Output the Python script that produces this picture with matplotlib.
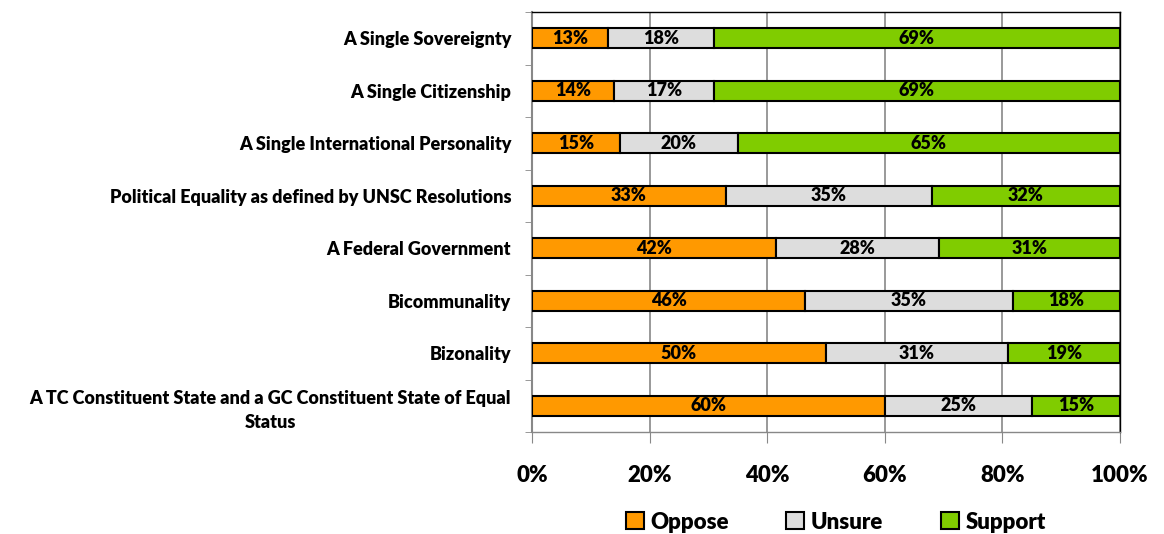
import numpy as np
import matplotlib.pyplot as plt

categories = [
    "A Single Sovereignty",
    "A Single Citizenship",
    "A Single International Personality",
    "Political Equality as defined by UNSC Resolutions",
    "A Federal Government",
    "Bicommunality",
    "Bizonality",
    "A TC Constituent State and a GC Constituent State of Equal\nStatus",
]
oppose = [13, 14, 15, 33, 42, 46, 50, 60]
unsure = [18, 17, 20, 35, 28, 35, 31, 25]
support = [69, 69, 65, 32, 31, 18, 19, 15]

series = [("Oppose", oppose, "#FF9900"),
          ("Unsure", unsure, "#DDDDDD"),
          ("Support", support, "#80CC00")]

plt.rcParams["font.family"] = ["Lato", "DejaVu Sans"]
plt.rcParams["font.weight"] = "heavy"

fig = plt.figure(figsize=(11.64, 5.34), dpi=100)
ax = fig.add_axes([0.457, 0.191, 0.505, 0.7865])

totals = np.array(oppose) + np.array(unsure) + np.array(support)
y = np.arange(len(categories))
left = np.zeros(len(categories))
for name, vals, color in series:
    frac = np.array(vals) / totals
    ax.barh(y, frac, left=left, height=0.38, color=color, edgecolor="black",
            linewidth=1.5, label=name, zorder=3)
    for yi, (l, w, v) in enumerate(zip(left, frac, vals)):
        ax.text(l + w / 2, yi, f"{v}%", ha="center", va="center",
                fontsize=13, fontweight="heavy", zorder=4)
    left += frac

ax.set_xlim(0, 1)
ax.set_ylim(len(categories) - 0.5, -0.5)
ax.set_xticks(np.linspace(0, 1, 6))
ax.set_xticklabels([f"{int(v)}%" for v in np.linspace(0, 100, 6)],
                   fontsize=16, fontweight="heavy")
ax.tick_params(axis="x", length=8, color="#888888", pad=16)

ax.set_yticks(y)
ax.set_yticklabels(categories, fontsize=13, fontweight="heavy",
                   multialignment="center", linespacing=1.45)
ax.tick_params(axis="y", length=0, pad=15)
ax.set_yticks(np.arange(-0.5, len(categories), 1), minor=True)
ax.tick_params(axis="y", which="minor", length=5, color="#888888")

ax.grid(axis="x", color="#888888", linewidth=1.2, zorder=0)
for side in ["top", "right", "bottom"]:
    ax.spines[side].set_color("black")
    ax.spines[side].set_linewidth(1.0)
ax.spines["left"].set_color("#888888")
ax.spines["left"].set_linewidth(1.5)
ax.spines["bottom"].set_color("#888888")

fig.legend(loc="lower center", bbox_to_anchor=(0.718, -0.035), ncol=3,
           frameon=False, handlelength=0.8, handleheight=0.8,
           columnspacing=2.6, handletextpad=0.3,
           prop={"weight": "heavy", "size": 16})

fig.savefig("out.png", dpi=100)
